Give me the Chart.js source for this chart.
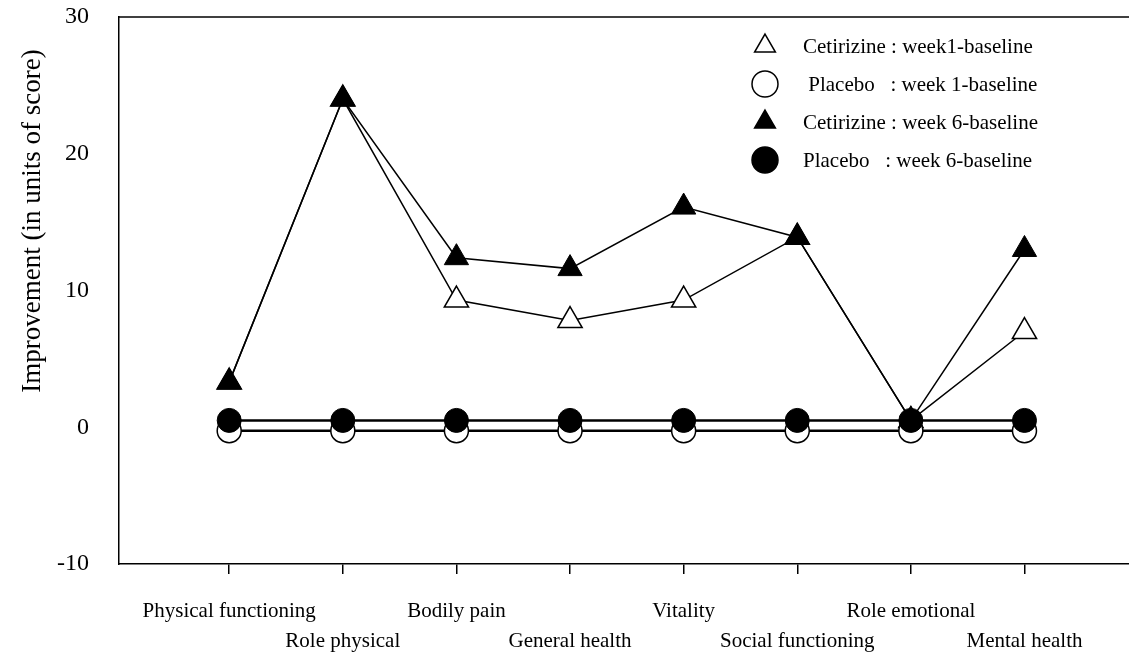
<!DOCTYPE html>
<html>
<head>
<meta charset="utf-8">
<script src="https://cdn.jsdelivr.net/npm/chart.js@4.4.1/dist/chart.umd.min.js"></script>
<style>
  html, body { margin: 0; padding: 0; background: #fff; }
  #wrap { width: 1129px; height: 660px; }
</style>
</head>
<body>
<div id="wrap"><canvas id="chart" width="1129" height="660"></canvas></div>
<script>
// categories along the x axis
const categories = [
  "Physical functioning",
  "Role physical",
  "Bodily pain",
  "General health",
  "Vitality",
  "Social functioning",
  "Role emotional",
  "Mental health",
]

// improvement scores
const cetirizineWeek1 = [3.3, 24.0, 9.3, 7.8, 9.3, 13.9, 0.5, 7.0]
const placeboWeek1 = [-0.25, -0.25, -0.25, -0.25, -0.25, -0.25, -0.25, -0.25]
const cetirizineWeek6 = [3.3, 24.0, 12.4, 11.6, 16.1, 13.9, 0.5, 13.0]
const placeboWeek6 = [0.5, 0.5, 0.5, 0.5, 0.5, 0.5, 0.5, 0.5]

const yTicks = [-10, 0, 10, 20, 30]
const yTitle = "Improvement (in units of score)"

const legendLabels = [
  "Cetirizine : week1-baseline",
  " Placebo   : week 1-baseline",
  "Cetirizine : week 6-baseline",
  "Placebo   : week 6-baseline",
]

const serif = "'Liberation Serif', 'Times New Roman', serif"

const toPoints = (values) => values.map((v, i) => ({ x: i, y: v }))

// top border of the frame (no right border in the original)
const frameTop = {
  id: "frameTop",
  afterDraw(chart) {
    const { ctx, chartArea } = chart
    ctx.save()
    ctx.strokeStyle = "#000"
    ctx.lineWidth = 1.5
    ctx.beginPath()
    ctx.moveTo(chartArea.left, chartArea.top)
    ctx.lineTo(chartArea.right, chartArea.top)
    ctx.stroke()
    ctx.restore()
  },
}

// rotated y axis title, sitting a bit above the middle like the original
const yAxisTitle = {
  id: "yAxisTitle",
  afterDraw(chart) {
    const { ctx, chartArea } = chart
    ctx.save()
    ctx.translate(33, chartArea.top + 204)
    ctx.rotate(-Math.PI / 2)
    ctx.fillStyle = "#000"
    ctx.font = "27px " + serif
    ctx.textAlign = "center"
    ctx.textBaseline = "middle"
    ctx.fillText(yTitle, 0, 0)
    ctx.restore()
  },
}

// legend drawn inside the plot, top right
const innerLegend = {
  id: "innerLegend",
  afterDraw(chart) {
    const { ctx, chartArea } = chart
    ctx.save()
    chart.data.datasets.forEach((ds, i) => {
      const y = chartArea.top + 29 + i * 38
      ctx.fillStyle = ds.pointBackgroundColor
      ctx.strokeStyle = "#000"
      ctx.lineWidth = 1.5
      Chart.helpers.drawPoint(ctx, {
        pointStyle: ds.pointStyle,
        radius: ds.pointStyle === "triangle" ? 12 : 13,
        rotation: 0,
        borderWidth: 1.5,
      }, 765, y)
      ctx.fillStyle = "#000"
      ctx.font = "21px " + serif
      ctx.textBaseline = "middle"
      ctx.textAlign = "left"
      ctx.fillText(ds.label, 803, y + 1)
    })
    ctx.restore()
  },
}

const ctx = document.getElementById("chart").getContext("2d")

new Chart(ctx, {
  type: "line",
  data: {
    datasets: [
      {
        label: legendLabels[0],
        data: toPoints(cetirizineWeek1),
        borderColor: "#000",
        borderWidth: 1.5,
        pointStyle: "triangle",
        pointRadius: 14,
        pointBackgroundColor: "#fff",
        pointBorderColor: "#000",
        pointBorderWidth: 1.5,
        order: 3,
      },
      {
        label: legendLabels[1],
        data: toPoints(placeboWeek1),
        borderColor: "#000",
        borderWidth: 2.5,
        pointStyle: "circle",
        pointRadius: 12,
        pointBackgroundColor: "#fff",
        pointBorderColor: "#000",
        pointBorderWidth: 1.5,
        order: 1,
      },
      {
        label: legendLabels[2],
        data: toPoints(cetirizineWeek6),
        borderColor: "#000",
        borderWidth: 1.5,
        pointStyle: "triangle",
        pointRadius: 14,
        pointBackgroundColor: "#000",
        pointBorderColor: "#000",
        pointBorderWidth: 1,
        order: 2,
      },
      {
        label: legendLabels[3],
        data: toPoints(placeboWeek6),
        borderColor: "#000",
        borderWidth: 2.5,
        pointStyle: "circle",
        pointRadius: 12,
        pointBackgroundColor: "#000",
        pointBorderColor: "#000",
        pointBorderWidth: 1,
        order: 0,
      },
    ],
  },
  options: {
    responsive: false,
    animation: false,
    devicePixelRatio: 1,
    layout: {
      autoPadding: false,
      padding: { top: 17, left: 0, right: 0, bottom: 0 },
    },
    plugins: {
      legend: { display: false },
      tooltip: { enabled: false },
    },
    elements: { line: { tension: 0 } },
    scales: {
      x: {
        type: "linear",
        min: -0.97,
        max: 7.92,
        afterFit: (scale) => {
          scale.height = 96
          scale.paddingLeft = 0
          scale.paddingRight = 0
        },
        afterBuildTicks: (scale) => {
          scale.ticks = categories.map((c, i) => ({ value: i }))
        },
        ticks: {
          color: "#000",
          padding: 22,
          maxRotation: 0,
          autoSkip: false,
          font: { family: serif, size: 21, lineHeight: 1.45 },
          callback: (value) => {
            const label = categories[value]
            return value % 2 === 0 ? [label] : ["", label]
          },
        },
        grid: {
          display: true,
          drawOnChartArea: false,
          drawTicks: true,
          tickLength: 10,
          color: "#000",
          lineWidth: 1.5,
        },
        border: { display: true, color: "#000", width: 1.5 },
      },
      y: {
        min: -10,
        max: 30,
        afterFit: (scale) => {
          scale.width = 119
          scale.paddingTop = 0
          scale.paddingBottom = 0
        },
        afterBuildTicks: (scale) => {
          scale.ticks = yTicks.map((v) => ({ value: v }))
        },
        ticks: {
          color: "#000",
          padding: 30,
          font: { family: serif, size: 24 },
        },
        grid: { display: false, drawTicks: false },
        border: { display: true, color: "#000", width: 1.5 },
      },
    },
  },
  plugins: [frameTop, yAxisTitle, innerLegend],
})
</script>
</body>
</html>
